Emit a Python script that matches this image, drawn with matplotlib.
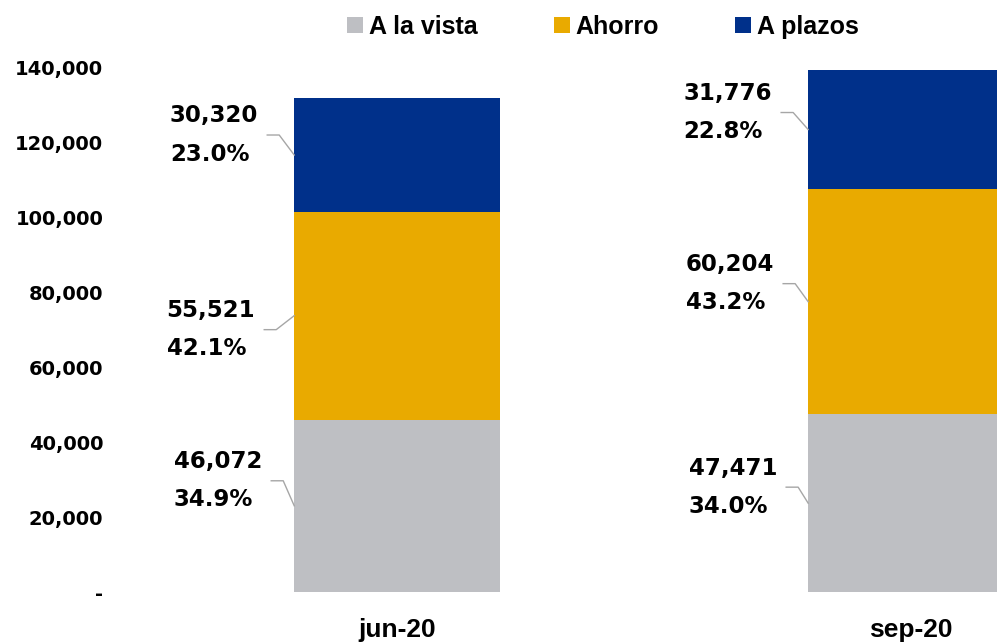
import matplotlib
matplotlib.use("Agg")
import matplotlib.pyplot as plt
from matplotlib.patches import Patch
from matplotlib.ticker import FuncFormatter

# data
periods = ["jun-20", "sep-20"]
series = ["A la vista", "Ahorro", "A plazos"]
a_la_vista = [46072, 47471]
ahorro = [55521, 60204]
a_plazos = [30320, 31776]
pct_vista = ["34.9%", "34.0%"]
pct_ahorro = ["42.1%", "43.2%"]
pct_plazos = ["23.0%", "22.8%"]

colors = ["#BEBFC3", "#E9AA00", "#00308A"]

# leader elbow offsets in pixels (dx, dy) from the bar edge, per period / series
elbows = [
    [(-11, 25), (-18, -14), (-15, 20)],
    [(-10, 16), (-13, 18), (-15, 17)],
]
arm = 12

narrow = ["Liberation Sans", "DejaVu Sans"]

fig = plt.figure(figsize=(9.97, 6.43), dpi=100)
ax = fig.add_axes([120 / 997, 51 / 643, 996 / 997, 524 / 643])

x = [0, 1]
width = 0.40
values = [a_la_vista, ahorro, a_plazos]
pcts = [pct_vista, pct_ahorro, pct_plazos]
bottom = [0, 0]
for s in range(3):
    ax.bar(x, values[s], width, bottom=bottom, color=colors[s], edgecolor="none")
    bottom = [b + v for b, v in zip(bottom, values[s])]

ax.set_xlim(-0.539, 1.399)
ax.set_ylim(0, 140000)
ax.set_yticks(range(0, 140001, 20000))
ax.yaxis.set_major_formatter(FuncFormatter(lambda v, p: "-" if v == 0 else f"{int(v):,}"))
ax.set_xticks(x)
ax.set_xticklabels(periods)
for lab in ax.get_yticklabels():
    lab.set_fontweight("bold")
    lab.set_fontsize(14)
    lab.set_family("DejaVu Sans")
for lab in ax.get_xticklabels():
    lab.set_fontweight("bold")
    lab.set_fontsize(19)
    lab.set_family(narrow)
ax.tick_params(axis="y", length=0, pad=12)
ax.tick_params(axis="x", length=0, pad=19)
for sp in ax.spines.values():
    sp.set_visible(False)

# data labels with leader lines
fig.canvas.draw()
inv = ax.transData.inverted()
for i in range(2):
    base = 0
    for s in range(3):
        v = values[s][i]
        mid = base + v / 2
        base += v
        ex, ey = ax.transData.transform((x[i] - width / 2, mid))
        dx, dy = elbows[i][s]
        p_end = (ex, ey)
        p_elb = (ex + dx, ey + dy)
        p_start = (ex + dx - arm, ey + dy)
        line = inv.transform([p_start, p_elb, p_end])
        ax.plot(line[:, 0], line[:, 1], color="#A6A6A6", lw=1.0, clip_on=False)
        tx, ty = inv.transform((p_start[0] - 9, p_start[1]))
        ax.text(tx, ty, f"{v:,}\n{pcts[s][i]}", ha="right", va="center",
                multialignment="left", fontsize=16.5, fontweight="bold",
                family="DejaVu Sans", linespacing=1.85, color="black")

handles = [Patch(facecolor=c, edgecolor="none") for c in colors]
fig.legend(handles, series, loc="center", bbox_to_anchor=(603 / 997, 1 - 27 / 643),
           ncol=3, frameon=False, handlelength=0.64, handleheight=0.64,
           handletextpad=0.24, columnspacing=3.05,
           prop={"family": narrow, "weight": "bold", "size": 18})

fig.savefig("out.png", dpi=100)
